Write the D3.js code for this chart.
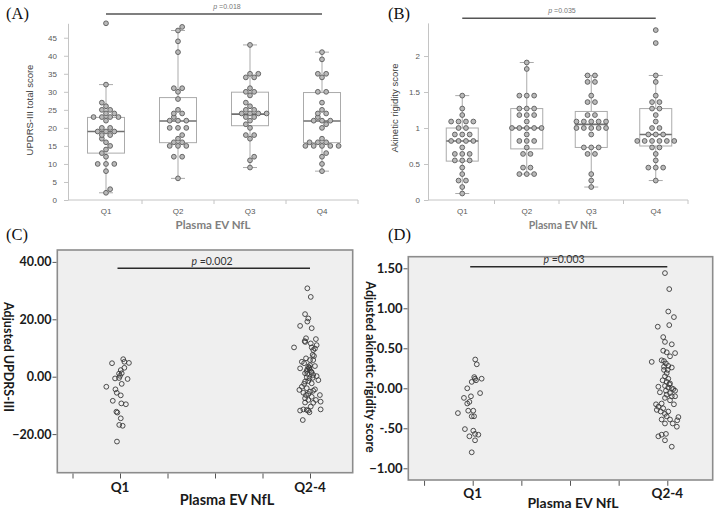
<!DOCTYPE html>
<html><head><meta charset="utf-8">
<script src="https://cdn.jsdelivr.net/npm/d3@7"></script>
<style>body{margin:0;background:#fff} svg{display:block}</style>
</head><body><svg id="c" width="717" height="512"></svg>
<script>
// ---------------- DATA ----------------
const quartiles = ["Q1", "Q2", "Q3", "Q4"];
const groupsCD = ["Q1", "Q2-4"];

// Panel A: UPDRS-III total score per quartile
const aQ1 = [49,32,27,26,25,25,24,24,23,23,23,23,22,20,20,19,19,19,18,18,17,16,15,14,13,12,10,10,10,8,3,2];
const aQ2 = [48,47,44,41,31,31,30,28,25,24,24,23,22,22,22,20,20,20,18,17,16,16,15,15,15,12,12,6];
const aQ3 = [43,35,35,34,34,31,30,30,29,27,26,25,25,24,24,24,24,23,23,22,21,20,18,18,17,12,11,9];
const aQ4 = [41,39,35,35,34,30,30,27,25,24,24,23,22,22,22,21,20,17,16,16,16,15,15,15,15,15,13,12,10,8];
// box stats: [lower quartile, median, upper quartile, whisker low, whisker high]
const aBox = [[13,19,22.9,2,32],[15.9,21.9,28.4,6,47],[20.6,23.8,29.9,9,43],[15.9,21.9,29.8,8,41]];
const aTicks = [0,5,10,15,20,25,30,35,40,45];

// Panel B: akinetic rigidity score per quartile
const bQ1 = [1.45,1.27,1.18,1.09,1.09,1.09,1.09,1.00,1.00,0.91,0.91,0.91,0.82,0.82,0.82,0.82,0.73,0.64,0.64,0.64,0.55,0.55,0.55,0.45,0.36,0.27,0.27,0.18,0.09];
const bQ2 = [1.91,1.82,1.45,1.45,1.45,1.27,1.27,1.27,1.18,1.18,1.18,1.09,1.00,1.00,1.00,1.00,1.00,0.91,0.82,0.82,0.82,0.73,0.64,0.64,0.45,0.45,0.36,0.36,0.36];
const bQ3 = [1.73,1.73,1.64,1.64,1.45,1.36,1.36,1.18,1.18,1.09,1.09,1.09,1.09,1.09,1.00,1.00,1.00,1.00,1.00,0.91,0.73,0.73,0.73,0.64,0.64,0.36,0.27,0.18];
const bQ4 = [2.36,2.18,1.73,1.64,1.45,1.36,1.36,1.27,1.27,1.18,1.09,1.00,1.00,0.91,0.91,0.91,0.82,0.82,0.82,0.82,0.82,0.82,0.73,0.73,0.64,0.55,0.45,0.45,0.45,0.27];
const bBox = [[0.54,0.82,1.00,0.09,1.45],[0.71,1.00,1.27,0.36,1.91],[0.73,1.05,1.23,0.18,1.73],[0.75,0.91,1.27,0.27,1.73]];
const bTicks = [0,0.5,1,1.5,2];

// Panel C: adjusted UPDRS-III (x = group position incl. jitter, y = value)
const cQ1x = [1.017,1.023,1.047,0.958,1.023,1.004,0.995,1.009,0.974,0.995,1.040,1.009,0.928,0.976,0.983,1.004,0.962,1.007,1.031,0.981,0.986,1.004,0.996,1.014,0.984,1.000];
const cQ1y = [6.1,5.2,4.8,4.7,3.1,2.3,1.05,1.2,-0.6,-0.45,-0.8,-2.5,-3.5,-4.4,-5.6,-6.5,-8.4,-9.3,-9.6,-12.2,-12.5,-14.5,-16.8,-17.1,-22.6,0.3];
const cQ24x = [1.986,2.004,1.974,1.991,1.986,1.948,2.009,1.979,2.031,1.972,1.975,2.004,2.035,1.916,2.009,2.017,2.014,2.021,1.979,2.000,1.969,2.026,2.000,1.991,1.948,1.986,2.000,1.995,1.983,2.009,1.974,2.017,2.035,1.983,1.997,2.044,1.974,2.009,1.957,1.983,1.944,2.026,2.017,1.965,1.979,1.991,2.052,2.009,1.974,1.991,2.017,2.031,2.056,1.965,1.948,1.991,1.983,2.056,1.997,1.962,1.997,2.007,1.986,2.014,1.991,1.969,2.000,1.974,2.004,1.957,2.017,2.026];
const cQ24y = [30.8,27.8,21.8,20.3,19.2,17.7,16.9,13.4,13.1,12.4,12.1,11.6,11.0,10.2,10.2,9.3,7.6,7.2,6.4,5.8,4.7,3.7,4.0,3.5,2.9,2.6,2.3,2.9,2.0,1.4,1.2,0.6,0.2,-0.2,-0.6,-1.2,-1.7,-2.3,-3.5,-4.0,-4.6,-4.4,-4.9,-5.6,-6.4,-6.0,-6.4,-7.0,-7.5,-8.1,-9.1,-8.1,-8.7,-11.4,-11.8,-11.8,-11.6,-11.4,-12.4,-15.1,3.2,1.7,1.0,-0.4,-1.5,-2.5,-5.2,-9.0,-10.4,5.2,5.8,9.8];
const cTicks = [-20,0,20,40];

// Panel D: adjusted akinetic rigidity score
const dQ1x = [1.013,1.021,1.008,1.012,1.046,1.017,0.995,0.972,0.991,1.038,0.955,0.983,0.972,0.977,1.003,0.995,1.007,0.924,0.960,1.003,1.012,1.029,0.983,1.012,0.995];
const dQ1y = [0.36,0.30,0.14,0.12,0.12,0.10,0.08,0.00,-0.10,-0.06,-0.12,-0.17,-0.19,-0.28,-0.28,-0.35,-0.35,-0.31,-0.51,-0.53,-0.57,-0.58,-0.60,-0.65,-0.80];
const dQ24x = [1.988,2.010,2.005,2.034,2.010,1.951,1.979,1.988,2.023,1.979,1.997,2.040,2.014,1.920,1.971,1.983,1.993,2.005,2.023,1.983,1.997,1.988,2.005,1.976,1.997,2.014,1.988,1.954,2.005,2.023,2.031,2.040,1.962,1.997,2.023,1.988,2.014,2.034,1.942,1.954,1.979,1.946,1.966,1.988,1.997,1.971,2.014,2.057,2.051,1.988,2.028,2.049,1.954,1.971,1.993,1.988,2.023,1.983,2.002,2.010,1.993,2.014,2.040,1.971,2.005];
const dQ24y = [1.44,1.24,0.96,0.89,0.79,0.77,0.64,0.58,0.55,0.47,0.45,0.44,0.40,0.33,0.35,0.34,0.31,0.28,0.26,0.23,0.19,0.15,0.12,0.10,0.08,0.06,0.03,0.02,0.01,0.00,-0.01,-0.03,-0.05,-0.08,-0.10,-0.12,-0.15,-0.20,-0.20,-0.23,-0.25,-0.27,-0.29,-0.32,-0.35,-0.39,-0.39,-0.36,-0.40,-0.44,-0.44,-0.48,-0.60,-0.58,-0.57,-0.65,-0.73,0.27,0.23,0.05,-0.03,-0.06,-0.10,-0.19,-0.29];
const dTicks = [-1,-0.5,0,0.5,1,1.5];

const pTexts = ["0.018", "0.035", "0.002", "0.003"];
const xTitle = "Plasma EV NfL";

// ---------------- DRAW ----------------
const svg = d3.select("#c");
const FS = "'Liberation Sans', Arial, sans-serif";
const FB = "Lato, 'Open Sans', sans-serif";
const FSERIF = "'Liberation Serif', 'Times New Roman', serif";

function dotLayout(values, y, spacing, rowGap) {
  const groups = d3.groups(values, v => v).sort((a, b) => a[0] - b[0]);
  const out = [];
  let prev = null, sign = 1;
  groups.forEach(([v, arr]) => {
    const n = arr.length, parity = n % 2;
    let shift = 0;
    if (prev && Math.abs(y(v) - y(prev.v)) < rowGap && prev.parity === parity && prev.shift === 0) {
      shift = spacing / 2 * sign; sign = -sign;
    }
    arr.forEach((_, i) => out.push({ v, dx: (i - (n - 1) / 2) * spacing + shift }));
    prev = { v, parity, shift };
  });
  return out;
}

function panelLabel(t, x, y) {
  svg.append("text").attr("x", x).attr("y", y).text(t)
    .attr("font-family", FSERIF).attr("font-size", 16.5).attr("fill", "#111");
}

function boxPanel(cfg) {
  const g = svg.append("g");
  const y = d3.scaleLinear().domain([0, cfg.yMax]).range([200, cfg.yTop]);
  const x = d3.scaleBand().domain(quartiles).range([cfg.x0 + 2, cfg.x1]);
  const axisCol = "#c4c4c4";
  const ya = g.append("g").attr("transform", `translate(${cfg.x0},0)`)
    .call(d3.axisLeft(y).tickValues(cfg.ticks).tickSize(4).tickSizeOuter(0).tickPadding(cfg.pad).tickFormat(d3.format("")));
  ya.select(".domain").attr("stroke", axisCol);
  ya.selectAll(".tick line").attr("stroke", axisCol);
  ya.selectAll(".tick text").attr("font-family", FS).attr("font-size", 8).attr("fill", "#595959");
  g.append("line").attr("x1", cfg.x0).attr("x2", cfg.x1).attr("y1", 200).attr("y2", 200).attr("stroke", axisCol);
  quartiles.forEach((q, i) => {
    const bx = x(q) + x.bandwidth();
    g.append("line").attr("x1", bx).attr("x2", bx).attr("y1", 200).attr("y2", 204).attr("stroke", axisCol);
    g.append("text").attr("x", x(q) + x.bandwidth() / 2).attr("y", 214).attr("text-anchor", "middle")
      .attr("font-family", FS).attr("font-size", 8).attr("fill", "#595959").text(q);
  });
  cfg.box.forEach((b, i) => {
    const cx = x(quartiles[i]) + x.bandwidth() / 2;
    const col = "#ababab";
    g.append("line").attr("x1", cx).attr("x2", cx).attr("y1", y(b[3])).attr("y2", y(b[0])).attr("stroke", col);
    g.append("line").attr("x1", cx).attr("x2", cx).attr("y1", y(b[2])).attr("y2", y(b[4])).attr("stroke", col);
    [b[3], b[4]].forEach(w => g.append("line").attr("x1", cx - cfg.capW / 2).attr("x2", cx + cfg.capW / 2)
      .attr("y1", y(w)).attr("y2", y(w)).attr("stroke", col));
    g.append("rect").attr("x", cx - cfg.boxW / 2).attr("width", cfg.boxW).attr("y", y(b[2]))
      .attr("height", y(b[0]) - y(b[2])).attr("fill", "none").attr("stroke", col);
    g.append("line").attr("x1", cx - cfg.boxW / 2).attr("x2", cx + cfg.boxW / 2)
      .attr("y1", y(b[1])).attr("y2", y(b[1])).attr("stroke", "#707070").attr("stroke-width", 1.6);
  });
  cfg.data.forEach((vals, i) => {
    const cx = x(quartiles[i]) + x.bandwidth() / 2;
    g.selectAll(null).data(dotLayout(vals, y, cfg.spacing, cfg.rowGap)).join("circle")
      .attr("cx", d => cx + d.dx).attr("cy", d => y(d.v)).attr("r", 2.4)
      .attr("fill", "#b9b9b9").attr("stroke", "#5a5a5a").attr("stroke-width", 0.9);
  });
  const c1 = x("Q1") + x.bandwidth() / 2, c4 = x("Q4") + x.bandwidth() / 2;
  g.append("line").attr("x1", c1).attr("x2", c4).attr("y1", cfg.pY).attr("y2", cfg.pY)
    .attr("stroke", "#555").attr("stroke-width", 1.5);
  const pt = g.append("text").attr("x", cfg.pX).attr("y", cfg.pY - 5).attr("text-anchor", "middle")
    .attr("font-family", FS).attr("font-size", 7).attr("fill", "#777");
  pt.append("tspan").attr("font-style", "italic").text("p");
  pt.append("tspan").text(" =" + cfg.p);
  g.append("text").attr("transform", `translate(${cfg.yLabX},${cfg.yLabY}) rotate(-90)`).attr("text-anchor", "middle")
    .attr("font-family", FS).attr("font-size", cfg.yLabFs).attr("fill", "#404040").text(cfg.yLabel);
  g.append("text").attr("x", cfg.xTitleX).attr("y", 229).attr("text-anchor", "middle")
    .attr("font-family", FB).attr("font-weight", 700).attr("font-size", cfg.xTitleFs).attr("fill", "#808080").text(xTitle);
}

boxPanel({ x0: 68, x1: 358, yMax: 49, yTop: 23.3, ticks: aTicks, pad: 7, box: aBox, boxW: 37, capW: 14,
  data: [aQ1, aQ2, aQ3, aQ4], spacing: 8.3, rowGap: 5, pY: 14, pX: 227, p: pTexts[0],
  yLabel: "UPDRS-III total score", yLabX: 33, yLabY: 110, yLabFs: 9.5, xTitleX: 213, xTitleFs: 11.5 });
boxPanel({ x0: 428, x1: 688, yMax: 2.46, yTop: 22.9, ticks: bTicks, pad: 4, box: bBox, boxW: 32, capW: 14,
  data: [bQ1, bQ2, bQ3, bQ4], spacing: 7.4, rowGap: 0, pY: 18.3, pX: 562, p: pTexts[1],
  yLabel: "Akinetic rigidity score", yLabX: 398, yLabY: 108, yLabFs: 9.5, xTitleX: 563, xTitleFs: 10.5 });

function scatterPanel(cfg) {
  const g = svg.append("g");
  const x = d3.scaleLinear().domain([1, 2]).range(cfg.xr);
  const y = d3.scaleLinear().domain([0, 1]).range([cfg.y0, cfg.y0 - cfg.k]);
  const [L, R, T, B] = cfg.frame;
  g.append("rect").attr("x", L).attr("y", T).attr("width", R - L).attr("height", B - T)
    .attr("fill", "#efefef").attr("stroke", "#8c8c8c").attr("stroke-width", 1.6);
  const ya = g.append("g").attr("transform", `translate(${L - 0.8},0)`)
    .call(d3.axisLeft(y).tickValues(cfg.ticks).tickSize(4).tickPadding(1).tickFormat(cfg.fmt));
  ya.select(".domain").remove();
  ya.selectAll(".tick line").attr("stroke", "#555");
  ya.selectAll(".tick text").attr("font-family", FB).attr("font-weight", 700).attr("font-size", cfg.tfs).attr("fill", "#1a1a1a");
  const xa = g.append("g").attr("transform", `translate(0,${B + 0.8})`)
    .call(d3.axisBottom(x).tickValues(d3.range(0.75, 2.01, 0.25)).tickSize(5).tickFormat(""));
  xa.select(".domain").remove();
  xa.selectAll(".tick line").attr("stroke", "#555");
  groupsCD.forEach((q, i) => g.append("text").attr("x", x(i + 1)).attr("y", cfg.qY).attr("text-anchor", "middle")
    .attr("font-family", FB).attr("font-weight", 700).attr("font-size", 13.5).attr("fill", "#1a1a1a").text(q));
  g.append("text").attr("x", cfg.xtX).attr("y", cfg.xtY).attr("text-anchor", "middle")
    .attr("font-family", FB).attr("font-weight", 700).attr("font-size", cfg.xtFs).attr("fill", "#1a1a1a").text(xTitle);
  g.append("text").attr("transform", `translate(${cfg.ylX},${cfg.ylY}) rotate(90)`).attr("text-anchor", "middle")
    .attr("font-family", FB).attr("font-weight", 700).attr("font-size", 12.5).attr("fill", "#1a1a1a").text(cfg.yLabel);
  const pts = [];
  cfg.series.forEach(([xs, ys]) => xs.forEach((xv, i) => pts.push([xv, ys[i]])));
  g.selectAll(null).data(pts).join("circle").attr("cx", d => x(d[0])).attr("cy", d => y(d[1])).attr("r", 2.4)
    .attr("fill", "none").attr("stroke", "#3a3a3a").attr("stroke-width", 0.9);
  g.append("line").attr("x1", x(1) - 2.5).attr("x2", x(2)).attr("y1", cfg.pY).attr("y2", cfg.pY)
    .attr("stroke", "#2a2a2a").attr("stroke-width", 1.5);
  const pt = g.append("text").attr("x", cfg.pX).attr("y", cfg.pY - 3.5).attr("text-anchor", "middle")
    .attr("font-family", FB).attr("font-size", 10.5).attr("fill", "#333");
  pt.append("tspan").attr("font-style", "italic").text("p");
  pt.append("tspan").text(" =" + cfg.p);
}

const fmt2 = d3.format(".2f");
scatterPanel({ xr: [120, 310], y0: 376.7, k: 2.87, frame: [57.3, 352.7, 250, 472.7], ticks: cTicks, fmt: fmt2, tfs: 12.5,
  qY: 492, xtX: 227, xtY: 505, xtFs: 14.5, ylX: 4, ylY: 357, yLabel: "Adjusted UPDRS-III",
  series: [[cQ1x, cQ1y], [cQ24x, cQ24y]], pY: 268.3, pX: 212, p: pTexts[2] });
scatterPanel({ xr: [472.7, 667.3], y0: 388.3, k: 80, frame: [408.3, 712.7, 256.7, 480], ticks: dTicks,
  fmt: d => (d < 0 && d > -1) ? "-" + fmt2(-d).slice(1) : fmt2(d), tfs: 13,
  qY: 498, xtX: 573, xtY: 508, xtFs: 14, ylX: 366, ylY: 367, yLabel: "Adjusted akinetic rigidity score",
  series: [[dQ1x, dQ1y], [dQ24x, dQ24y]], pY: 266.7, pX: 564, p: pTexts[3] });

panelLabel("(A)", 6, 19);
panelLabel("(B)", 388, 19);
panelLabel("(C)", 6, 240);
panelLabel("(D)", 388, 240);
</script>
</body></html>
